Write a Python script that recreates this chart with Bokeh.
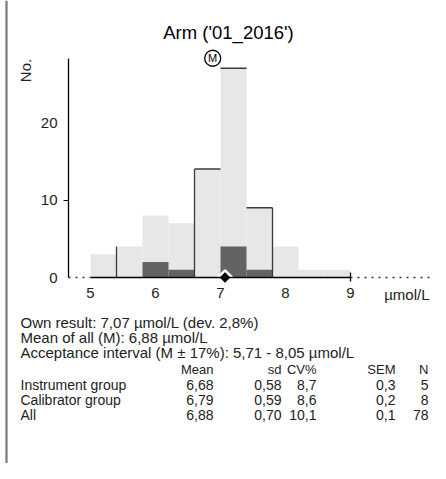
import numpy as np
from bokeh.plotting import figure
from bokeh.models import LinearAxis, FixedTicker, Range1d
from bokeh.core.properties import value
from bokeh.embed import file_html
from bokeh.resources import INLINE

# ---------------- data ----------------
title_text = "Arm ('01_2016')"
y_label = "No."
unit_label = "µmol/L"
bin_edges = [5.0, 5.4, 5.8, 6.2, 6.6, 7.0, 7.4, 7.8, 8.2, 8.6, 9.0]
all_counts = [3, 4, 8, 7, 14, 27, 9, 4, 1, 1]
group_counts = [0, 0, 2, 1, 0, 4, 1, 0, 0, 0]
outline_top_bins = [4, 5, 6]
outline_left_bins = [1, 4]
outline_right_bins = [6]
x_ticks = [5, 6, 7, 8, 9]
y_ticks = [0, 10, 20]
y_axis_top = 28.2
own_result = 7.07
mean_all = 6.88
info_lines = ["Own result: 7,07 µmol/L (dev. 2,8%)",
              "Mean of all (M): 6,88 µmol/L",
              "Acceptance interval (M ± 17%): 5,71 - 8,05 µmol/L"]
table_columns = ["Mean", "sd", "CV%", "SEM", "N"]
table_rows = ["Instrument group", "Calibrator group", "All"]
table_mean = ["6,68", "6,79", "6,88"]
table_sd = ["0,58", "0,59", "0,70"]
table_cv = ["8,7", "8,6", "10,1"]
table_sem = ["0,3", "0,2", "0,1"]
table_n = ["5", "8", "78"]

# ---------------- layout ----------------
W, H = 430, 463
PXX, PXY = 65.0, 7.75
X5_PX = 90
BASE_PX = 277
x_start = x_ticks[0] - X5_PX / PXX
x_end = x_start + W / PXX
y_start = -(H - BASE_PX) / PXY
y_end = y_start + H / PXY


def dx(px):
    return x_start + px / PXX


def dy(py):
    return y_end - py / PXY


FONT = value("Liberation Sans")
TXT = "#222222"

p = figure(width=W, height=H, x_range=Range1d(x_start, x_end),
           y_range=Range1d(y_start, y_end), output_backend="svg",
           toolbar_location=None, min_border=0,
           x_axis_type=None, y_axis_type=None)
p.outline_line_color = None
p.background_fill_color = "white"
p.border_fill_color = "white"

lefts = bin_edges[:-1]
rights = bin_edges[1:]

p.quad(left=lefts, right=rights, bottom=0, top=all_counts,
       fill_color="#e7e7e7", line_color=None)
p.quad(left=lefts, right=rights, bottom=0, top=group_counts,
       fill_color="#636363", line_color=None)

# outline segments
sx0, sy0, sx1, sy1 = [], [], [], []
for i in outline_top_bins:
    sx0.append(lefts[i]); sx1.append(rights[i]); sy0.append(all_counts[i]); sy1.append(all_counts[i])
for i in outline_left_bins:
    sx0.append(lefts[i]); sx1.append(lefts[i]); sy0.append(0); sy1.append(all_counts[i])
for i in outline_right_bins:
    sx0.append(rights[i]); sx1.append(rights[i]); sy0.append(0); sy1.append(all_counts[i])
p.segment(x0=sx0, y0=sy0, x1=sx1, y1=sy1, line_color="#3a3a3a", line_width=1.3)

# dotted baseline extensions
y_axis_x = dx(68)
p.segment(x0=[y_axis_x, x_ticks[-1]], y0=[0, 0], x1=[x_ticks[0], x_end], y1=[0, 0],
          line_color="#333333", line_width=1.5, line_dash="2 5")

# axes
yax = LinearAxis(fixed_location=y_axis_x, ticker=FixedTicker(ticks=y_ticks),
                 bounds=(0, y_axis_top))
yax.axis_line_color = "black"
yax.axis_line_width = 1.3
yax.major_tick_line_color = None
yax.major_tick_out = 5
yax.major_tick_in = 0
yax.minor_tick_line_color = None
yax.major_label_standoff = 6
yax.major_label_text_font = "Liberation Sans"
yax.major_label_text_font_size = "15px"
yax.major_label_text_color = TXT
p.add_layout(yax, "left")

ytk = LinearAxis(fixed_location=y_axis_x, ticker=FixedTicker(ticks=[10]))
ytk.axis_line_color = None
ytk.major_tick_out = 5
ytk.major_tick_in = 0
ytk.major_tick_line_color = "black"
ytk.major_tick_line_width = 1.2
ytk.minor_tick_line_color = None
ytk.major_label_text_color = None
p.add_layout(ytk, "left")

xax = LinearAxis(fixed_location=0, ticker=FixedTicker(ticks=x_ticks),
                 bounds=(x_ticks[0], x_ticks[-1]))
xax.axis_line_color = "black"
xax.axis_line_width = 1.3
xax.major_tick_line_color = None
xax.major_tick_out = 0
xax.major_tick_in = 0
xax.minor_tick_line_color = None
xax.major_label_standoff = 10
xax.major_label_text_font = "Liberation Sans"
xax.major_label_text_font_size = "15px"
xax.major_label_text_color = TXT
p.add_layout(xax, "below")

xtk = LinearAxis(fixed_location=0, ticker=FixedTicker(ticks=[x_ticks[-1]]))
xtk.axis_line_color = None
xtk.major_tick_out = 4
xtk.major_tick_in = 5
xtk.major_tick_line_color = "black"
xtk.major_tick_line_width = 1.3
xtk.minor_tick_line_color = None
xtk.major_label_text_color = None
p.add_layout(xtk, "below")

# left frame line
p.segment(x0=[dx(6)], y0=[dy(0)], x1=[dx(6)], y1=[dy(H)],
          line_color="#7a7a7a", line_width=2.2)

# mean marker (M)
m_y = max(all_counts) + 10 / PXY
p.scatter(x=[mean_all], y=[m_y], marker="circle", size=16,
          fill_color="white", line_color="black", line_width=1.3)
p.text(x=[mean_all], y=[m_y], text=["M"], text_align="center",
       text_baseline="middle", text_font=FONT, text_font_size=value("11px"),
       text_color="black")

# own result marker
p.scatter(x=[own_result], y=[0], marker="square", angle=np.pi / 4, size=10,
          fill_color="black", line_color="white", line_width=2.5)


def add_text(px, py, s, align="left", size="15px", color=TXT, angle=0.0):
    p.text(x=[dx(px)], y=[dy(py)], text=[s], text_align=align,
           text_baseline="middle", text_font=FONT, text_font_size=value(size),
           text_color=color, angle=angle)


add_text(228, 32, title_text, align="center", size="18.5px", color="black")
add_text(25, 70, y_label, align="center", angle=np.pi / 2)
add_text(429, 294, unit_label, align="right")

for k, line in enumerate(info_lines):
    add_text(20, 322 + 15 * k, line, size="15px")

col_right = [213, 281, 316, 395, 428]
head_y = 369
for c, name in enumerate(table_columns):
    add_text(col_right[c], head_y, name, align="right", size="13px")
cols = [table_mean, table_sd, table_cv, table_sem, table_n]
for r, row in enumerate(table_rows):
    ry = head_y + 15 * (r + 1)
    add_text(20, ry, row, size="14px")
    for c, col in enumerate(cols):
        add_text(col_right[c], ry, col[r], align="right", size="14px")

open("out.html", "w").write(file_html(p, INLINE))
